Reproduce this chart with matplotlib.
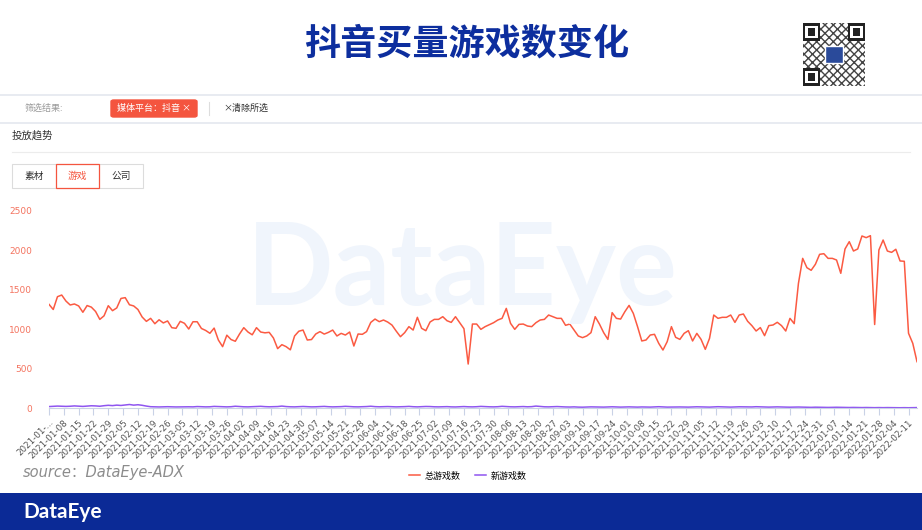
import numpy as np
import pandas as pd
import matplotlib
matplotlib.use('Agg')
import matplotlib.pyplot as plt
from matplotlib.patches import Rectangle, FancyBboxPatch
from matplotlib.lines import Line2D

plt.rcParams['font.family'] = ['DejaVu Sans', 'Noto Sans CJK SC']
CJK = ['Noto Sans CJK SC', 'DejaVu Sans']

# ---- data (one point every 2 days) ----
start_date = '2021-01-01'
total_games = [
    1315, 1250, 1412, 1433, 1357, 1307, 1320, 1295, 1215, 1300,
    1280, 1225, 1125, 1170, 1298, 1235, 1270, 1390, 1400, 1310,
    1295, 1250, 1155, 1100, 1138, 1070, 1120, 1080, 1105, 1020,
    1012, 1100, 1075, 1003, 1095, 1095, 1010, 985, 949, 1015,
    864, 780, 925, 870, 848, 940, 1020, 965, 930, 1020,
    965, 955, 961, 890, 755, 805, 780, 740, 915, 975,
    990, 864, 870, 940, 970,
    939, 961, 990, 915, 948, 927, 965, 788, 940, 936,
    970, 1087, 1129, 1096, 1117, 1091, 1053,
    977, 906, 957, 1033, 990, 1151, 1012, 982, 1092, 1125,
    1125, 1159, 1108, 1087, 1159, 1083, 1007, 560, 1066, 1066,
    999, 1033, 1058, 1083, 1117, 1138, 1264, 1075, 999, 1062,
    1066, 1041, 1033, 1083, 1117, 1125, 1180, 1159, 1138, 1138,
    1050, 1066, 990, 915, 894, 915, 957, 1159, 1066, 957,
    872, 1210, 1138, 1129, 1222, 1302, 1201, 1033, 852, 864,
    927, 936, 822, 737, 843, 1033, 898, 872, 948, 982,
    852, 948, 872, 746, 885, 1180, 1138, 1151, 1151, 1180,
    1087, 1180, 1193,
    1101, 1046, 978, 1021, 919, 1046, 1054, 1088, 1046, 978,
    1138, 1071, 1581, 1897, 1779, 1746, 1822, 1948, 1956, 1897,
    1897, 1876, 1708, 2016, 2108, 1990, 2016, 2180, 2159, 2184,
    1060, 2003, 2129, 1990, 1973, 2012, 1864, 1860, 949, 822,
    590]
new_games = [
    22, 25, 28, 26, 24, 26, 30, 27, 24, 28,
    32, 30, 26, 33, 38, 34, 40, 36, 42, 48,
    40, 45, 38, 28, 20, 18, 17, 19, 20, 18,
    17, 18, 20, 19, 18, 22, 20, 18, 19, 24,
    22, 19, 18, 20, 26, 22, 19, 18, 20, 22,
    25, 21, 19, 20, 22, 28, 22, 19, 18, 20,
    23, 21, 18, 19, 22, 24, 20, 18, 19, 21,
    25, 22, 19, 18, 20, 22, 26, 21, 19, 20,
    22, 20, 18, 19, 21, 24, 20, 18, 20, 23,
    22, 19, 18, 20, 21, 18, 17, 20, 22, 19,
    18, 20, 24, 21, 19, 18, 20, 25, 22, 19,
    18, 20, 22, 19, 21, 28, 24, 19, 18, 20,
    22, 19, 17, 16, 18, 15, 14, 16, 18, 17,
    16, 15, 17, 19, 17, 15, 16, 18, 16, 15,
    17, 16, 15, 18, 20, 17, 15, 16, 18, 17,
    16, 15, 17, 19, 18, 16, 15, 17, 20, 18,
    16, 15, 17, 19, 18, 16, 17, 20, 18, 16,
    15, 17, 18, 16, 15, 14, 15, 16, 15, 13,
    12, 14, 13, 12, 11, 12, 13, 12, 11, 10,
    11, 10, 9, 10, 9, 8, 9, 8, 9, 8,
    8, 7, 8, 7, 8, 9]
series_names = ['总游戏数', '新游戏数']
y_ticks = [0, 500, 1000, 1500, 2000, 2500]
tick_dates = pd.date_range('2021-01-01', '2022-02-11', freq='7D')
tick_labels = [d.strftime('%Y-%m-%d') for d in tick_dates]
tick_labels[0] = '2021-01-...'

dates = pd.date_range(start_date, periods=len(total_games), freq='2D')

W, H = 922, 530
fig = plt.figure(figsize=(W / 100, H / 100), dpi=100)
fig.patch.set_facecolor('white')


def fx(px):
    return px / W


def fy(py):
    return 1 - py / H


# ---- header ----
fig.text(fx(467), fy(44), '抖音买量游戏数变化', family=CJK, fontsize=26, fontweight='bold',
         color='#0d2e9e', ha='center', va='center')

qr = fig.add_axes([fx(803), fy(86), fx(62), 63 / H])
qr.set_xlim(0, 25)
qr.set_ylim(0, 25)
qr.axis('off')
qr.add_patch(Rectangle((0, 0), 25, 25, fc='white', ec='#444444', hatch='xxxx', lw=0))
for (a, b) in [(0, 18), (18, 18), (0, 0)]:
    qr.add_patch(Rectangle((a, b), 7, 7, fc='#222222', ec='none'))
    qr.add_patch(Rectangle((a + 1, b + 1), 5, 5, fc='white', ec='none'))
    qr.add_patch(Rectangle((a + 2, b + 2), 3, 3, fc='#222222', ec='none'))
qr.add_patch(Rectangle((9, 9), 7, 7, fc='#2a4a9a', ec='white', lw=1))

# filter bar
fig.add_artist(Line2D([0, 1], [fy(95), fy(95)], color='#e4e7ef', lw=1.2))
fig.add_artist(Line2D([0, 1], [fy(123), fy(123)], color='#e4e7ef', lw=1.2))
fig.text(fx(25), fy(108.5), '筛选结果:', family=CJK, fontsize=6.5, color='#9a9a9a', va='center')
fig.add_artist(FancyBboxPatch((fx(111), fy(117)), fx(86), 17 / H,
                              boxstyle='round,pad=0,rounding_size=0.003',
                              fc='#f4553f', ec='#f4553f', transform=fig.transFigure))
fig.text(fx(117), fy(108.5), '媒体平台：抖音 ×', family=CJK, fontsize=6.5, color='white', va='center')
fig.add_artist(Line2D([fx(209), fx(209)], [fy(102), fy(115)], color='#dddddd', lw=0.8))
fig.text(fx(223), fy(108.5), '×清除所选', family=CJK, fontsize=6.5, color='#333333', va='center')

fig.text(fx(12), fy(136), '投放趋势', family=CJK, fontsize=7.5, color='#333333', va='center')
fig.add_artist(Line2D([fx(12), fx(910)], [fy(152), fy(152)], color='#ececec', lw=0.8))

# tabs
fig.add_artist(Rectangle((fx(12), fy(188)), fx(131), 24 / H, fc='white', ec='#dcdcdc', lw=0.8,
                         transform=fig.transFigure))
fig.add_artist(Rectangle((fx(56), fy(188)), fx(43), 24 / H, fc='white', ec='#f4553f', lw=0.9,
                         transform=fig.transFigure))
fig.text(fx(34), fy(176), '素材', family=CJK, fontsize=7, color='#333333', ha='center', va='center')
fig.text(fx(77.5), fy(176), '游戏', family=CJK, fontsize=7, color='#f4553f', ha='center', va='center')
fig.text(fx(121), fy(176), '公司', family=CJK, fontsize=7, color='#333333', ha='center', va='center')

# big watermark
fig.text(fx(462), fy(272), 'DataEye', fontsize=82, fontweight='bold', color='#f0f5fc',
         ha='center', va='center', family='Lato', zorder=0)

# ---- chart ----
ax = fig.add_axes([fx(49), fy(408.3), fx(868), (408.3 - 210.7) / H])
ax.patch.set_alpha(0)
ax.plot(dates, total_games, color='#fb5a42', lw=1.1, label=series_names[0])
ax.plot(dates, new_games, color='#8f55f0', lw=1.1, label=series_names[1])
ax.set_ylim(0, 2500)
ax.set_xlim(dates[0], dates[-1])
ax.set_yticks(y_ticks)
ax.set_yticklabels([str(v) for v in y_ticks])
ax.set_xticks(tick_dates)
ax.set_xticklabels(tick_labels, rotation=45, ha='right', rotation_mode='anchor')
for s in ['top', 'right', 'left']:
    ax.spines[s].set_visible(False)
ax.spines['bottom'].set_color('#c9d2e6')
ax.tick_params(axis='y', length=0, labelsize=6.5, labelcolor='#f4735f', pad=12)
ax.tick_params(axis='x', length=5, color='#c9d2e6', labelsize=6.3, labelcolor='#555555', pad=2)

leg = ax.legend(loc='center', bbox_to_anchor=(fx(468), fy(476)), bbox_transform=fig.transFigure,
                ncol=2, frameon=False, handlelength=1.2, columnspacing=1.6, handletextpad=0.5,
                prop={'family': CJK, 'size': 6.5})

fig.text(fx(23), fy(472), 'source：DataEye-ADX', fontsize=10.5, style='italic', color='#8c8c8c',
         va='center', family=['DejaVu Sans', 'Noto Sans CJK SC'])

# ---- bottom banner ----
fig.add_artist(Rectangle((0, 0), 1, 37 / H, fc='#0b2a96', ec='none', transform=fig.transFigure))
fig.text(fx(23), fy(511.5), 'DataEye', fontsize=15, fontweight='bold', color='white', va='center',
         family='Lato')

fig.savefig('out.png', dpi=100)
